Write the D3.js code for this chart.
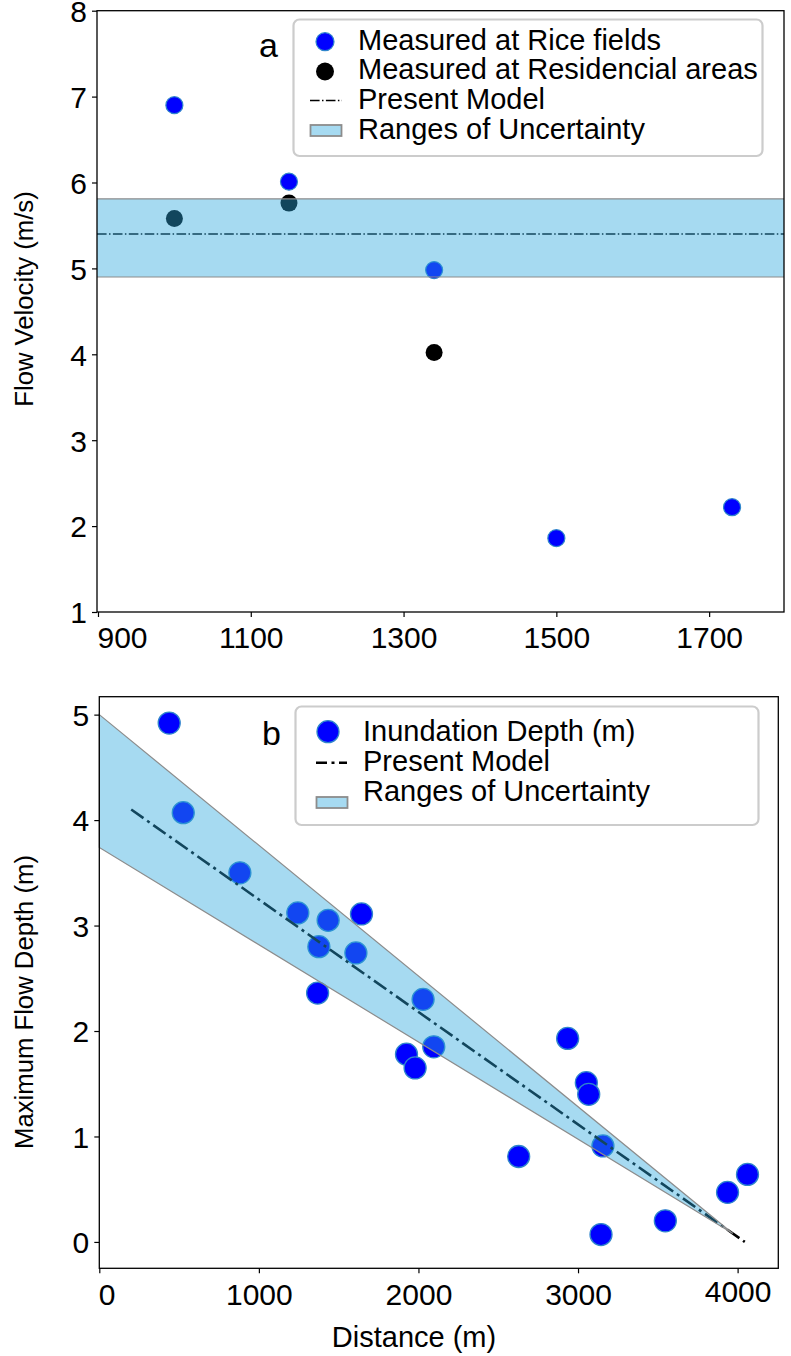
<!DOCTYPE html>
<html>
<head>
<meta charset="utf-8">
<script src="https://cdn.jsdelivr.net/npm/d3@7"></script>
<style>
  body { margin: 0; background: #fff; }
  text { font-family: "Liberation Sans", Arial, sans-serif; fill: #000; }
</style>
</head>
<body>
<div id="chart"></div>
<script>
// ---- panel a : flow velocity ----
var riceDist = [1000, 1150, 1340, 1500, 1730];
var riceVel = [6.90, 6.01, 4.98, 1.86, 2.22];
var resDist = [1000, 1150, 1340];
var resVel = [5.58, 5.76, 4.02];
var modelVel = 5.40;
var velRange = [4.90, 5.81];
var velXTicks = [900, 1100, 1300, 1500, 1700];
var velYTicks = [1, 2, 3, 4, 5, 6, 7, 8];

// ---- panel b : inundation depth ----
var depthDist = [438, 526, 881, 1244, 1434, 1643, 1376, 1608, 1368, 2029, 1925,
                 1979, 2096, 2935, 3052, 3067, 3156, 2628, 3144, 3547, 3937, 4062];
var depthVal = [4.92, 4.07, 3.50, 3.12, 3.05, 3.11, 2.80, 2.74, 2.36, 2.30, 1.78,
                1.65, 1.85, 1.93, 1.51, 1.40, 0.91, 0.81, 0.07, 0.20, 0.47, 0.64];
var modelDist = [200, 4045];
var modelDepth = [4.10, 0.0];
var bandDist = [0, 3970];
var bandUpper = [5.00, 0.08];
var bandLower = [3.74, 0.08];
var depthXTicks = [0, 1000, 2000, 3000, 4000];
var depthYTicks = [0, 1, 2, 3, 4, 5];

var W = 791, H = 1356;
var bandFill = 'rgb(43,167,221)', bandAlpha = 0.42, bandEdge = '#8c8c8c';
var blue = '#0000ff', blueEdge = '#2f86cc';
var tickFont = 30, labelFont = 25.7, legendFont = 29;

var svg = d3.select('#chart').append('svg')
    .attr('width', W).attr('height', H);

function drawAxes(g, x, y, xt, yt) {
    var xa = g.append('g')
        .attr('transform', 'translate(0,' + y.range()[0] + ')')
        .call(d3.axisBottom(x).tickValues(xt).tickSize(5).tickPadding(10).tickFormat(d3.format('d')));
    var ya = g.append('g')
        .attr('transform', 'translate(' + x.range()[0] + ',0)')
        .call(d3.axisLeft(y).tickValues(yt).tickSize(5).tickPadding(5).tickFormat(d3.format('d')));
    [xa, ya].forEach(function (a) {
        a.select('.domain').remove();
        a.selectAll('line').attr('stroke', '#000').attr('stroke-width', 1.2);
        a.selectAll('text').style('font-size', tickFont + 'px')
            .style('font-family', '"Liberation Sans", Arial, sans-serif').attr('fill', '#000');
    });
    ya.selectAll('text').attr('dy', '0.36em');
    // first x label sits to the right of its tick, as in the original
    xa.selectAll('.tick text').filter(function (d, i) { return i === 0; })
        .attr('text-anchor', 'start').attr('x', -1);
    g.append('rect')
        .attr('x', x.range()[0]).attr('y', y.range()[1])
        .attr('width', x.range()[1] - x.range()[0])
        .attr('height', y.range()[0] - y.range()[1])
        .attr('fill', 'none').attr('stroke', '#000').attr('stroke-width', 1.3);
    return xa;
}

// ================= panel a =================
var xA = d3.scaleLinear().domain([898.7, 1798]).range([97, 784]);
var yA = d3.scaleLinear().domain([1, 8]).range([612, 10.7]);
var gA = svg.append('g');

gA.selectAll('circle.rice')
    .data(riceDist)
    .enter()
    .append('circle')
    .attr('class', 'rice')
    .attr('cx', function (d) { return xA(d); })
    .attr('cy', function (d, i) { return yA(riceVel[i]); })
    .attr('r', 8.5)
    .attr('fill', blue).attr('stroke', blueEdge).attr('stroke-width', 1.2);

gA.selectAll('circle.res')
    .data(resDist)
    .enter()
    .append('circle')
    .attr('class', 'res')
    .attr('cx', function (d) { return xA(d); })
    .attr('cy', function (d, i) { return yA(resVel[i]); })
    .attr('r', 8.5)
    .attr('fill', '#000');

gA.append('line')
    .attr('x1', xA.range()[0]).attr('x2', xA.range()[1])
    .attr('y1', yA(modelVel)).attr('y2', yA(modelVel))
    .attr('stroke', '#000').attr('stroke-width', 1.5)
    .attr('stroke-dasharray', '9.6,2.4,1.5,2.4');

gA.append('rect')
    .attr('x', xA.range()[0]).attr('width', xA.range()[1] - xA.range()[0])
    .attr('y', yA(velRange[1])).attr('height', yA(velRange[0]) - yA(velRange[1]))
    .attr('fill', bandFill).attr('fill-opacity', bandAlpha);
velRange.forEach(function (v) {
    gA.append('line')
        .attr('x1', xA.range()[0]).attr('x2', xA.range()[1])
        .attr('y1', yA(v)).attr('y2', yA(v))
        .attr('stroke', bandEdge).attr('stroke-width', 1.2);
});

drawAxes(gA, xA, yA, velXTicks, velYTicks);

gA.append('text').attr('x', 259).attr('y', 56.5)
    .style('font-size', '34px').text('a');

gA.append('text')
    .attr('transform', 'translate(33,' + 299 + ') rotate(-90)')
    .attr('text-anchor', 'middle')
    .style('font-size', labelFont + 'px')
    .text('Flow Velocity (m/s)');

// legend a
var legA = gA.append('g');
legA.append('rect')
    .attr('x', 293.5).attr('y', 19.5).attr('width', 469).attr('height', 136.5)
    .attr('rx', 6).attr('fill', '#fff').attr('stroke', '#cccccc').attr('stroke-width', 2.2);
legA.append('circle').attr('cx', 325).attr('cy', 41.7).attr('r', 9)
    .attr('fill', blue).attr('stroke', blueEdge).attr('stroke-width', 1.2);
legA.append('circle').attr('cx', 325).attr('cy', 71.5).attr('r', 9).attr('fill', '#000');
legA.append('line').attr('x1', 310).attr('x2', 342).attr('y1', 100.5).attr('y2', 100.5)
    .attr('stroke', '#000').attr('stroke-width', 1.5).attr('stroke-dasharray', '9.6,2.4,1.5,2.4');
legA.append('rect').attr('x', 310.5).attr('y', 125).attr('width', 31).attr('height', 11)
    .attr('fill', bandFill).attr('fill-opacity', bandAlpha)
    .attr('stroke', bandEdge).attr('stroke-width', 1.8);
var legATexts = ['Measured at Rice fields', 'Measured at Residencial areas', 'Present Model', 'Ranges of Uncertainty'];
legA.selectAll('text.lg')
    .data(legATexts)
    .enter()
    .append('text')
    .attr('x', 358)
    .attr('y', function (d, i) { return 49.5 + i * 29.7; })
    .style('font-size', legendFont + 'px')
    .text(function (d) { return d; });

// ================= panel b =================
var xB = d3.scaleLinear().domain([0, 4255]).range([99.3, 778.3]);
var yB = d3.scaleLinear().domain([-0.25, 5.17]).range([1268.3, 696.7]);
var gB = svg.append('g');

gB.selectAll('circle.depth')
    .data(depthDist)
    .enter()
    .append('circle')
    .attr('class', 'depth')
    .attr('cx', function (d) { return xB(d); })
    .attr('cy', function (d, i) { return yB(depthVal[i]); })
    .attr('r', 11)
    .attr('fill', blue).attr('stroke', blueEdge).attr('stroke-width', 1.3);

gB.append('path')
    .datum(modelDist)
    .attr('d', d3.line()
        .x(function (d) { return xB(d); })
        .y(function (d, i) { return yB(modelDepth[i]); }))
    .attr('fill', 'none').attr('stroke', '#000').attr('stroke-width', 2.6)
    .attr('stroke-dasharray', '15,4.5,3,4.5');

var bandPts = bandDist.map(function (d, i) { return [d, bandUpper[i]]; })
    .concat(bandDist.slice().reverse().map(function (d, i) {
        return [d, bandLower[bandLower.length - 1 - i]];
    }));
gB.append('path')
    .datum(bandPts)
    .attr('d', d3.line()
        .x(function (d) { return xB(d[0]); })
        .y(function (d) { return yB(d[1]); }).curve(d3.curveLinearClosed))
    .attr('fill', bandFill).attr('fill-opacity', bandAlpha)
    .attr('stroke', bandEdge).attr('stroke-width', 1.2);

var xaB = drawAxes(gB, xB, yB, depthXTicks, depthYTicks);
// the last label sits slightly higher in the original
xaB.selectAll('.tick text').filter(function (d) { return d === 4000; })
    .attr('y', 12);

gB.append('text').attr('x', 262).attr('y', 745)
    .style('font-size', '34px').text('b');

gB.append('text')
    .attr('transform', 'translate(33,' + 1002 + ') rotate(-90)')
    .attr('text-anchor', 'middle')
    .style('font-size', labelFont + 'px')
    .text('Maximum Flow Depth (m)');

gB.append('text')
    .attr('x', 414).attr('y', 1347)
    .attr('text-anchor', 'middle')
    .style('font-size', '29px')
    .text('Distance (m)');

// legend b
var legB = gB.append('g');
legB.append('rect')
    .attr('x', 295.5).attr('y', 706.5).attr('width', 463).attr('height', 118.5)
    .attr('rx', 6).attr('fill', '#fff').attr('stroke', '#cccccc').attr('stroke-width', 2.2);
legB.append('circle').attr('cx', 328).attr('cy', 731.7).attr('r', 11)
    .attr('fill', blue).attr('stroke', blueEdge).attr('stroke-width', 1.3);
legB.append('line').attr('x1', 316).attr('x2', 347).attr('y1', 762.7).attr('y2', 762.7)
    .attr('stroke', '#000').attr('stroke-width', 2.6).attr('stroke-dasharray', '11,4.5,3,4.5');
legB.append('rect').attr('x', 316.5).attr('y', 797).attr('width', 31).attr('height', 11)
    .attr('fill', bandFill).attr('fill-opacity', bandAlpha)
    .attr('stroke', bandEdge).attr('stroke-width', 1.8);
var legBTexts = ['Inundation Depth (m)', 'Present Model', 'Ranges of Uncertainty'];
legB.selectAll('text.lg')
    .data(legBTexts)
    .enter()
    .append('text')
    .attr('x', 363)
    .attr('y', function (d, i) { return 740.5 + i * 30; })
    .style('font-size', legendFont + 'px')
    .text(function (d) { return d; });
</script>
</body>
</html>
